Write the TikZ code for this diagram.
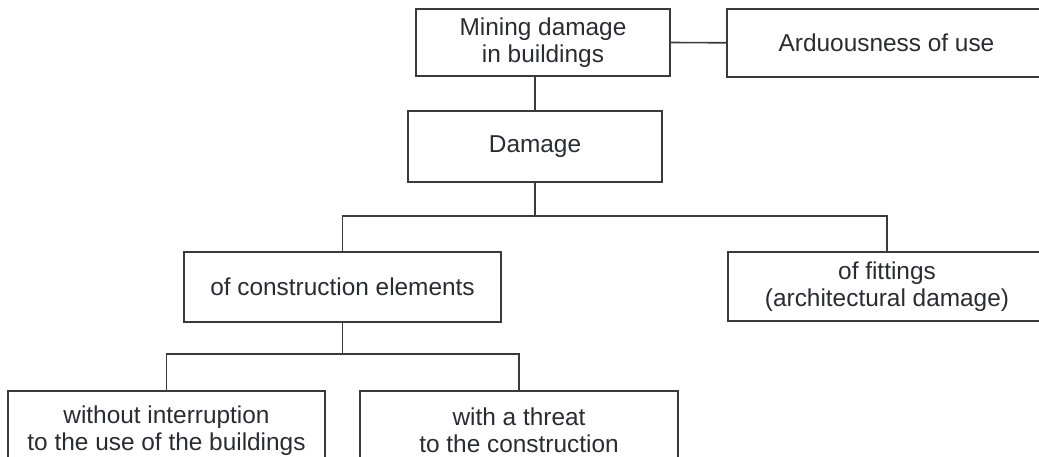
\documentclass[tikz,border=0pt]{standalone}
\usepackage{fontspec}
\setmainfont{Liberation Sans}
\definecolor{ink}{HTML}{2B2B33}
\definecolor{frame}{HTML}{3A3A3A}
\begin{document}
\begin{tikzpicture}[x=1pt,y=1pt,
  box/.style={draw=frame, line width=1.6pt, fill=white, inner sep=0pt,
    align=center, text=ink, font=\fontsize{24.4}{27}\selectfont},
  link/.style={draw=frame, line width=1.6pt}]
  \useasboundingbox (0,0) rectangle (1039,456);
  \clip (0,0) rectangle (1039,456);

  % top level
  \node[box, minimum width=254, minimum height=66.5] (mining) at (543,413.5)
    {Mining damage\\in buildings};
  \node[box, minimum width=319, minimum height=68] (ardu) at (886.5,413.2)
    {Arduousness of use};
  \node[box, minimum width=254, minimum height=71] (damage) at (535,309.5)
    {Damage};

  % second level
  \node[box, minimum width=317, minimum height=70] (constr) at (342.5,169)
    {of construction elements};
  \node[box, minimum width=318, minimum height=69] (fit) at (887,169.5)
    {of fittings\\(architectural damage)};

  % third level
  \node[box, minimum width=317, minimum height=79] (without) at (166.5,25.5)
    {without interruption\\to the use of the buildings};
  \node[box, minimum width=318, minimum height=79] (threat) at (519,25.5)
    {with a threat\\to the construction};

  % bus levels
  \coordinate (busA) at (0,240);
  \coordinate (busB) at (0,102);

  % connectors
  \draw[link] (mining.east) -- (ardu.west);
  \draw[link] (damage.north) -- (damage.north |- mining.south);
  \draw[link] (damage.south) -- (damage.south |- busA);
  \draw[link] (constr.north) -- (constr.north |- busA) -- (fit.north |- busA) -- (fit.north);
  \draw[link] (constr.south) -- (constr.south |- busB);
  \draw[link] (without.north) -- (without.north |- busB) -- (threat.north |- busB) -- (threat.north);
\end{tikzpicture}
\end{document}
